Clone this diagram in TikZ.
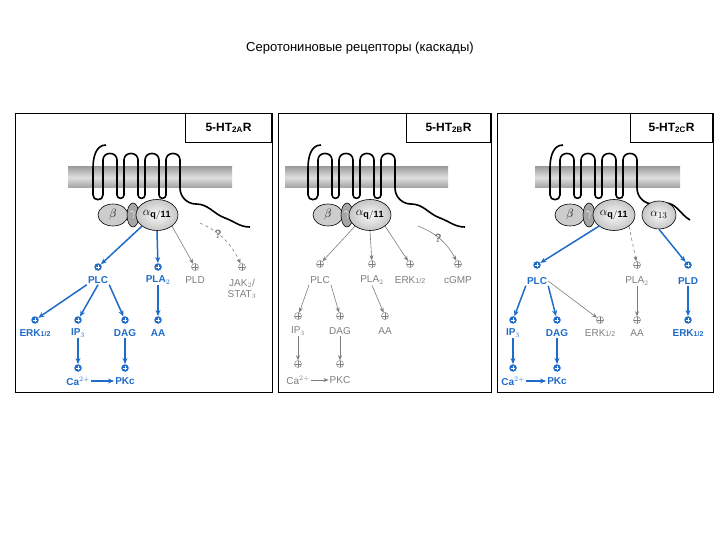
\documentclass[tikz,border=0pt]{standalone}
\usepackage{fontspec}
\setmainfont{Liberation Sans}
\usetikzlibrary{arrows.meta,shapes.geometric}
\definecolor{bl}{RGB}{30,108,200}
\definecolor{gr}{RGB}{125,125,125}
\begin{document}
\begin{tikzpicture}[x=1pt,y=-1pt,
 panel/.style={draw,line width=0.9pt},
 tbox/.style={draw,line width=0.8pt,font=\bfseries\fontsize{12}{14}\selectfont,inner sep=0pt},
 mem/.style={top color=gray!75,bottom color=gray!75,middle color=gray!25},
 rec/.style={line width=1.6pt,line join=round},
 gb/.style={draw,line width=0.6pt,fill=gray!40},
 gg/.style={draw,line width=0.6pt,fill=gray!70},
 ga/.style={draw,line width=0.6pt,inner color=gray!5,outer color=gray!45},
 bp/.style={circle,fill=bl,inner sep=0pt,minimum size=7.5pt,path picture={\draw[white,line width=0.9pt] ([xshift=-1.6pt]path picture bounding box.center)--([xshift=1.6pt]path picture bounding box.center) ([yshift=-1.6pt]path picture bounding box.center)--([yshift=1.6pt]path picture bounding box.center);}},
 gp/.style={circle,draw=gr,line width=0.45pt,inner sep=0pt,minimum size=7pt,path picture={\draw[gr,line width=0.45pt] ([xshift=-4pt]path picture bounding box.center)--([xshift=4pt]path picture bounding box.center) ([yshift=-4pt]path picture bounding box.center)--([yshift=4pt]path picture bounding box.center);}},
 bt/.style={text=bl,font=\bfseries\fontsize{10}{11}\selectfont,inner sep=1pt},
 gt/.style={text=gr,font=\fontsize{10}{11}\selectfont,inner sep=1pt,align=center},
 qm/.style={text=gr,font=\bfseries\fontsize{12}{13}\selectfont,inner sep=1pt},
 ba/.style={draw=bl,line width=1.5pt,-{Stealth[length=6pt,width=5pt]}},
 ga2/.style={draw=gr,line width=0.6pt,-{Stealth[length=5pt,width=4pt]}},
 gd/.style={draw=gr,line width=0.6pt,dashed,-{Stealth[length=5pt,width=4pt]}},
 gl/.style={font=\fontsize{13}{14}\selectfont}]
\useasboundingbox (0,0) rectangle (720,540);
\node (title) at (360,48) {\fontsize{13}{15}\selectfont Серотониновые рецепторы (каскады)};
% panels
\draw[panel] (15,113) rectangle (272,392);
\draw[panel] (278,113) rectangle (491,392);
\draw[panel] (497,113) rectangle (713,392);
\node[tbox,minimum width=86pt,minimum height=29pt,anchor=north east] (tA) at (272,113) {5-HT$_{\mathbf{2A}}$R};
\node[tbox,minimum width=84pt,minimum height=29pt,anchor=north east] (tB) at (491,113) {5-HT$_{\mathbf{2B}}$R};
\node[tbox,minimum width=82pt,minimum height=29pt,anchor=north east] (tC) at (713,113) {5-HT$_{\mathbf{2C}}$R};
% membranes
\fill[mem] (68,167) rectangle (232,188);
\fill[mem] (285,167) rectangle (448,188);
\fill[mem] (535,167) rectangle (680,188);
% receptors
\foreach \s in {0,215,457}{
\begin{scope}[xshift=\s]
\draw[rec] (106,145) to[out=180,in=90] (93,168) -- (93,195) to[out=-90,in=-90,looseness=1.6] (103,195) -- (103,160) to[out=90,in=90,looseness=1.6] (117,160) -- (117,195) to[out=-90,in=-90,looseness=1.6] (124,195) -- (124,160) to[out=90,in=90,looseness=1.6] (138,160) -- (138,195) to[out=-90,in=-90,looseness=1.6] (145,195) -- (145,160) to[out=90,in=90,looseness=1.6] (159,160) -- (159,195) to[out=-90,in=-90,looseness=1.6] (166,195) -- (166,160) to[out=90,in=90,looseness=1.6] (180,160) -- (180,188) to[out=-90,in=180] (196,204);
\end{scope}}
\draw[rec] (196,204) to[out=0,in=160] (225,218) to[out=-20,in=180] (250,227);
\draw[rec] (411,204) to[out=0,in=160] (440,218) to[out=-20,in=180] (465,227);
\draw[rec] (653,204) to[out=0,in=180] (665,203) to[out=0,in=150] (690,220);
% G proteins
\foreach \n/\bx/\gx/\ax in {A/113/133/157,B/328/347/370,C/570/589/614}{
\node[gb,ellipse,minimum width=30pt,minimum height=22pt] (b\n) at (\bx,215) {};
\node[gl] at (\bx,215) {$\beta$};
\node[gg,ellipse,minimum width=12pt,minimum height=24pt] (g\n) at (\gx,215) {};
\node[gl,text=white] at (\gx,215) {$\gamma$};
\node[ga,ellipse,minimum width=42pt,minimum height=31pt] (a\n) at (\ax,215) {};
\node[gl] at (\ax,215) {$\alpha_{\mathbf{q/11}}$};
}
\node[ga,ellipse,minimum width=34pt,minimum height=28pt,gl] (a13) at (659,215) {$\alpha_{13}$};

% ===== Panel A =====
\node[bp] (pPLCa) at (98,267) {}; \node[bt] (PLCa) at (98,280) {PLC};
\node[bp] (pPLAa) at (158,267) {}; \node[bt] (PLAa) at (158,280) {PLA$_2$};
\node[gp] (pPLDa) at (195,267) {}; \node[gt] (PLDa) at (195,280) {PLD};
\node[gp] (pJAKa) at (242,267) {}; \node[gt] (JAKa) at (242,289) {JAK$_2$/\\STAT$_3$};
\node[bp] (pERKa) at (35,320) {}; \node[bt] (ERKa) at (35,333) {ERK{\fontsize{7}{8}\selectfont 1/2}};
\node[bp] (pIPa) at (78,320) {}; \node[bt] (IPa) at (78,333) {IP$_3$};
\node[bp] (pDAGa) at (125,320) {}; \node[bt] (DAGa) at (125,333) {DAG};
\node[bp] (pAAa) at (158,320) {}; \node[bt] (AAa) at (158,333) {AA};
\node[bp] (pCaa) at (78,368) {}; \node[bt] (Caa) at (78,381) {Ca$^{2+}$};
\node[bp] (pPKa) at (125,368) {}; \node[bt] (PKa) at (125,381) {PKc};
\node[qm] (qA) at (218,234) {?};
\coordinate (qsA) at (200,223);
\draw[ba] (aA.south west) -- (pPLCa);
\draw[ba] (aA.south) -- (pPLAa);
\draw[ga2] (aA.south east) -- (pPLDa);
\draw[gd] (qsA) to[bend left=20] (pJAKa);
\draw[ba] (PLCa.south west) -- (pERKa);
\draw[ba] (PLCa.south) -- (pIPa);
\draw[ba] (PLCa.south east) -- (pDAGa);
\draw[ba] (PLAa.south) -- (pAAa);
\draw[ba] (IPa) -- (pCaa);
\draw[ba] (DAGa) -- (pPKa);
\draw[ba] (Caa) -- (PKa);

% ===== Panel B =====
\node[gp] (pPLCb) at (320,264) {}; \node[gt] (PLCb) at (320,280) {PLC};
\node[gp] (pPLAb) at (372,264) {}; \node[gt] (PLAb) at (372,280) {PLA$_2$};
\node[gp] (pERKb) at (410,264) {}; \node[gt] (ERKb) at (410,280) {ERK{\fontsize{7}{8}\selectfont 1/2}};
\node[gp] (pcGb) at (458,264) {}; \node[gt] (cGb) at (458,280) {cGMP};
\node[gp] (pIPb) at (298,316) {}; \node[gt] (IPb) at (298,331) {IP$_3$};
\node[gp] (pDAGb) at (340,316) {}; \node[gt] (DAGb) at (340,331) {DAG};
\node[gp] (pAAb) at (385,316) {}; \node[gt] (AAb) at (385,331) {AA};
\node[gp] (pCab) at (298,364) {}; \node[gt] (Cab) at (298,380) {Ca$^{2+}$};
\node[gp] (pPKb) at (340,364) {}; \node[gt] (PKb) at (340,380) {PKC};
\node[qm] (qB) at (438,238) {?};
\coordinate (qsB) at (418,226);
\draw[ga2] (aB.south west) -- (pPLCb);
\draw[ga2] (aB.south) -- (pPLAb);
\draw[ga2] (aB.south east) -- (pERKb);
\draw[ga2] (qsB) to[bend left=20] (pcGb);
\draw[ga2] (PLCb.south west) -- (pIPb);
\draw[ga2] (PLCb.south east) -- (pDAGb);
\draw[ga2] (PLAb.south) -- (pAAb);
\draw[ga2] (IPb) -- (pCab);
\draw[ga2] (DAGb) -- (pPKb);
\draw[ga2] (Cab) -- (PKb);

% ===== Panel C =====
\node[bp] (pPLCc) at (537,265) {}; \node[bt] (PLCc) at (537,281) {PLC};
\node[gp] (pPLAc) at (637,265) {}; \node[gt] (PLAc) at (637,281) {PLA$_2$};
\node[bp] (pPLDc) at (688,265) {}; \node[bt] (PLDc) at (688,281) {PLD};
\node[bp] (pIPc) at (513,320) {}; \node[bt] (IPc) at (513,333) {IP$_3$};
\node[bp] (pDAGc) at (557,320) {}; \node[bt] (DAGc) at (557,333) {DAG};
\node[gp] (pERKc) at (600,320) {}; \node[gt] (ERKc) at (600,333) {ERK{\fontsize{7}{8}\selectfont 1/2}};
\node[gp] (pAAc) at (637,320) {}; \node[gt] (AAc) at (637,333) {AA};
\node[bp] (pERK2c) at (688,320) {}; \node[bt] (ERK2c) at (688,333) {ERK{\fontsize{7}{8}\selectfont 1/2}};
\node[bp] (pCac) at (513,368) {}; \node[bt] (Cac) at (513,381) {Ca$^{2+}$};
\node[bp] (pPKc) at (557,368) {}; \node[bt] (PKc) at (557,381) {PKc};
\draw[ba] (aC.south west) -- (pPLCc);
\draw[gd] (aC.south east) -- (pPLAc);
\draw[ba] (a13.south) -- (pPLDc);
\draw[ba] (PLCc.south west) -- (pIPc);
\draw[ba] (PLCc.south east) -- (pDAGc);
\draw[ga2] (PLCc.east) -- (pERKc);
\draw[ga2] (PLAc.south) -- (pAAc);
\draw[ba] (PLDc.south) -- (pERK2c);
\draw[ba] (IPc) -- (pCac);
\draw[ba] (DAGc) -- (pPKc);
\draw[ba] (Cac) -- (PKc);
\end{tikzpicture}
\end{document}
